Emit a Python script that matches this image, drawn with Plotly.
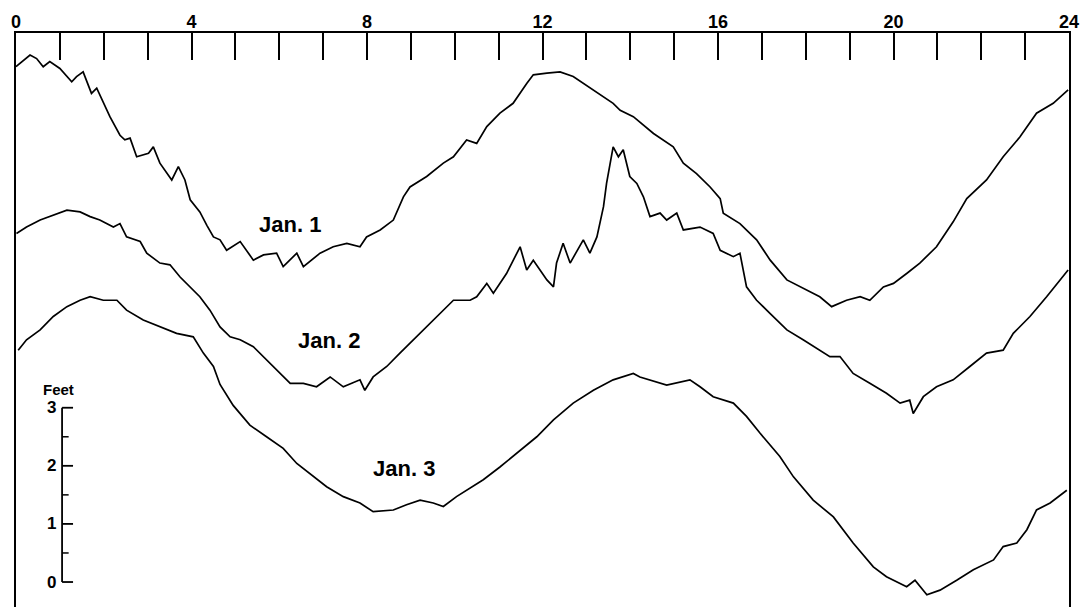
import plotly.graph_objects as go

# ---- data (hours, feet on the chart scale) ----
jan1_hours = [0.00, 0.32, 0.47, 0.62, 0.77, 1.00, 1.27, 1.38, 1.53, 1.72, 1.84, 2.14, 2.37, 2.48, 2.60,
              2.75, 3.02, 3.13, 3.28, 3.55, 3.70, 3.85, 3.97, 4.19, 4.35, 4.50, 4.65, 4.80, 5.11, 5.41,
              5.64, 5.94, 6.09, 6.40, 6.55, 6.93, 7.23, 7.54, 7.84, 7.99, 8.30, 8.60, 8.83, 8.98, 9.36,
              9.74, 9.97, 10.27, 10.50, 10.73, 11.03, 11.33, 11.64, 11.79, 12.10, 12.40, 12.70, 13.16,
              13.61, 13.77, 14.07, 14.53, 14.98, 15.21, 15.51, 15.82, 16.05, 16.12, 16.50, 16.88, 17.19,
              17.57, 18.02, 18.32, 18.59, 18.93, 19.24, 19.46, 19.77, 20.00, 20.30, 20.60, 20.98, 21.36,
              21.67, 22.12, 22.50, 22.88, 23.26, 23.64, 23.98]
jan1_feet = [8.87, 9.07, 9.01, 8.87, 8.96, 8.84, 8.61, 8.70, 8.78, 8.41, 8.50, 8.01, 7.69, 7.61, 7.64,
             7.32, 7.38, 7.49, 7.21, 6.92, 7.15, 6.92, 6.58, 6.37, 6.14, 5.94, 5.89, 5.71, 5.86, 5.54,
             5.63, 5.66, 5.43, 5.66, 5.43, 5.66, 5.77, 5.83, 5.77, 5.94, 6.06, 6.23, 6.63, 6.80, 6.98,
             7.21, 7.32, 7.61, 7.55, 7.84, 8.07, 8.24, 8.58, 8.73, 8.76, 8.78, 8.70, 8.47,
             8.24, 8.12, 8.01, 7.72, 7.49, 7.21, 7.03, 6.80, 6.60, 6.35, 6.17, 5.89, 5.54,
             5.20, 5.03, 4.91, 4.74, 4.85, 4.91, 4.85, 5.08, 5.14, 5.31, 5.49, 5.77, 6.20,
             6.60, 6.92, 7.32, 7.66, 8.07, 8.24, 8.47]

jan2_hours = [0.01, 0.24, 0.55, 0.85, 1.16, 1.46, 1.69, 1.91, 2.22, 2.37, 2.52, 2.83, 2.98, 3.28, 3.51,
              3.74, 3.97, 4.19, 4.42, 4.65, 4.88, 5.11, 5.41, 5.64, 5.94, 6.25, 6.55, 6.85, 7.16, 7.46,
              7.84, 7.95, 8.14, 8.45, 8.75, 9.06, 9.36, 9.66, 9.97, 10.35, 10.50, 10.73, 10.88, 11.18,
              11.49, 11.64, 11.79, 12.10, 12.25, 12.32, 12.47, 12.63, 12.93, 13.08, 13.24, 13.39, 13.46,
              13.61, 13.73, 13.84, 13.99, 14.15, 14.30, 14.45, 14.68, 14.83, 15.06, 15.21, 15.59, 15.89,
              16.05, 16.35, 16.50, 16.65, 16.88, 17.19, 17.57, 17.94, 18.32, 18.55, 18.78, 19.08, 19.46,
              19.84, 20.15, 20.37, 20.45, 20.68, 20.98, 21.36, 21.74, 22.12, 22.50, 22.73, 23.11, 23.49,
              23.98]
jan2_feet = [6.00, 6.11, 6.23, 6.32, 6.40, 6.37, 6.29, 6.23, 6.11, 6.17, 5.94, 5.86, 5.66, 5.49, 5.46,
             5.25, 5.08, 4.91, 4.68, 4.39, 4.22, 4.17, 4.05, 3.88, 3.65, 3.42, 3.42, 3.36, 3.53, 3.36,
             3.48, 3.30, 3.53, 3.71, 3.94, 4.17, 4.39, 4.62, 4.85, 4.85, 4.91, 5.14, 4.97, 5.31,
             5.77, 5.37, 5.54, 5.20, 5.08, 5.49, 5.83, 5.49, 5.89, 5.66, 5.94, 6.46, 6.86,
             7.49, 7.32, 7.44, 6.98, 6.86, 6.63, 6.29, 6.35, 6.23, 6.35, 6.06, 6.11, 6.00,
             5.71, 5.60, 5.66, 5.08, 4.85, 4.62, 4.34, 4.17, 3.99, 3.88, 3.88, 3.59, 3.42,
             3.25, 3.08, 3.13, 2.90, 3.19, 3.36, 3.48, 3.71, 3.94, 3.99, 4.28, 4.57, 4.91,
             5.37]

jan3_hours = [0.05, 0.24, 0.55, 0.85, 1.16, 1.46, 1.69, 1.99, 2.30, 2.52, 2.90, 3.28, 3.66, 4.04, 4.27,
              4.50, 4.65, 4.95, 5.33, 5.71, 6.09, 6.40, 6.78, 7.08, 7.46, 7.84, 8.14, 8.60, 8.90, 9.21,
              9.51, 9.74, 10.04, 10.27, 10.65, 11.03, 11.49, 11.87, 12.25, 12.70, 13.16, 13.61, 14.07,
              14.22, 14.83, 15.36, 15.59, 15.89, 16.35, 16.65, 16.96, 17.41, 17.72, 18.17, 18.63, 19.08,
              19.54, 19.84, 20.30, 20.49, 20.76, 21.06, 21.44, 21.82, 22.28, 22.50, 22.81, 23.04, 23.26,
              23.57, 23.95]
jan3_feet = [3.99, 4.17, 4.34, 4.57, 4.74, 4.85, 4.91, 4.85, 4.85, 4.68, 4.51, 4.39, 4.28, 4.22, 3.94,
             3.71, 3.40, 3.04, 2.70, 2.50, 2.30, 2.04, 1.81, 1.64, 1.47, 1.36, 1.21, 1.24, 1.33, 1.41,
             1.36, 1.30, 1.47, 1.58, 1.76, 1.98, 2.27, 2.50, 2.79, 3.08, 3.30, 3.48, 3.59,
             3.53, 3.39, 3.48, 3.36, 3.19, 3.08, 2.85, 2.56, 2.16, 1.81, 1.41, 1.12, 0.67,
             0.26, 0.09, -0.08, 0.03, -0.22, -0.14, 0.03, 0.21, 0.38, 0.61, 0.67, 0.90, 1.24,
             1.36, 1.58]

day_labels = ["Jan. 1", "Jan. 2", "Jan. 3"]
hour_ticks = list(range(0, 25))
hour_labels = [str(h) if h % 4 == 0 else "" for h in hour_ticks]
scale_major = [0, 1, 2, 3]
scale_minor = [0.5, 1.5, 2.5]

# ---- figure ----
fig = go.Figure()
for hrs, ft in [(jan1_hours, jan1_feet), (jan2_hours, jan2_feet), (jan3_hours, jan3_feet)]:
    fig.add_trace(go.Scatter(x=hrs, y=ft, mode="lines",
                             line=dict(color="black", width=1.7),
                             showlegend=False, hoverinfo="skip"))

FONT = "Liberation Sans"

# day labels
label_pos = [(6.24, 6.16), (7.13, 4.15), (8.84, 1.96)]
for txt, (lx, ly) in zip(day_labels, label_pos):
    fig.add_annotation(x=lx, y=ly, text=txt, showarrow=False,
                       font=dict(family=FONT, size=22, color="black", weight="bold"),
                       xanchor="center", yanchor="middle")

# feet scale bar
bar_x = 1.05
shapes = [dict(type="line", x0=bar_x, x1=bar_x, y0=scale_major[0], y1=scale_major[-1],
               line=dict(color="black", width=1.8))]
for v in scale_major:
    shapes.append(dict(type="line", x0=bar_x, x1=1.30, y0=v, y1=v,
                       line=dict(color="black", width=1.8)))
    fig.add_annotation(x=0.95, y=v, text=str(v), showarrow=False, xanchor="right", yanchor="middle",
                       font=dict(family=FONT, size=17, color="black", weight="bold"))
for v in scale_minor:
    shapes.append(dict(type="line", x0=bar_x, x1=1.20, y0=v, y1=v,
                       line=dict(color="black", width=1.5)))
fig.add_annotation(x=0.96, y=3.32, text="Feet", showarrow=False, xanchor="center", yanchor="middle",
                   font=dict(family=FONT, size=15, color="black", weight="bold"))

fig.update_layout(
    width=1080, height=607,
    margin=dict(l=16, r=11, t=33, b=0),
    paper_bgcolor="white", plot_bgcolor="white",
    shapes=shapes,
    xaxis=dict(range=[0, 24], side="top", tickmode="array", tickvals=hour_ticks, ticktext=hour_labels,
               ticks="inside", ticklen=27, tickwidth=1.6, tickcolor="black",
               showline=True, linewidth=2, linecolor="black", mirror=False,
               showgrid=False, zeroline=False, ticklabelstandoff=-4,
               tickfont=dict(family=FONT, size=18, color="black", weight="bold")),
    yaxis=dict(range=[-0.43, 9.45], showline=True, mirror=True, linewidth=2, linecolor="black",
               showticklabels=False, ticks="", showgrid=False, zeroline=False),
)

fig.write_html("out.html", config={"displayModeBar": False},
               post_script="document.body.style.margin='0';document.body.style.overflow='hidden';")
